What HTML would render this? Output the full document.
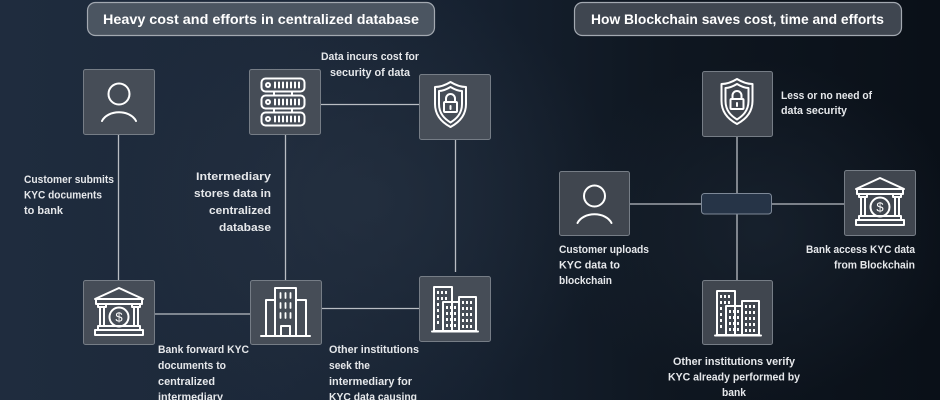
<!DOCTYPE html>
<html><head><meta charset="utf-8"><style>
html,body{margin:0;padding:0;width:940px;height:400px;overflow:hidden;}
body{background:linear-gradient(90deg,#1f2c3e 0%,#1c2839 30%,#162130 50%,#0f1721 70%,#0a1018 100%);}
svg{display:block;}
text{font-family:"Liberation Sans",sans-serif;font-weight:bold;fill:#e6e8eb;font-size:11px;}
.t{font-size:13.5px;fill:#ffffff;}
.ln{stroke:#b9bdc3;stroke-width:1.3;fill:none;}
.bx{fill:#464d57;stroke:#767d86;stroke-width:1;}
.ic{stroke:#ffffff;stroke-width:2;fill:none;stroke-linejoin:round;stroke-linecap:round;}
.icf{fill:#ffffff;}
</style></head><body>
<svg width="940" height="400" viewBox="0 0 940 400" xmlns="http://www.w3.org/2000/svg">
<defs>
<radialGradient id="glow" cx="0.5" cy="0.5" r="0.5">
<stop offset="0" stop-color="#2a3646" stop-opacity="0.55"/>
<stop offset="1" stop-color="#2a3646" stop-opacity="0"/>
</radialGradient>
<radialGradient id="glow2" cx="0.5" cy="0.5" r="0.5">
<stop offset="0" stop-color="#1d2836" stop-opacity="0.6"/>
<stop offset="1" stop-color="#1d2836" stop-opacity="0"/>
</radialGradient>
</defs>
<ellipse cx="360" cy="200" rx="260" ry="220" fill="url(#glow)"/>
<ellipse cx="760" cy="230" rx="200" ry="170" fill="url(#glow2)"/>

<!-- Titles -->
<rect x="87.5" y="2.5" width="347" height="33" rx="8" fill="#4b5561" stroke="#a3a9b1" stroke-width="1.2"/>
<text class="t" x="103" y="24" textLength="316" lengthAdjust="spacingAndGlyphs">Heavy cost and efforts in centralized database</text>
<rect x="574.5" y="2.5" width="327" height="33" rx="8" fill="#3f4650" stroke="#a3a9b1" stroke-width="1.2"/>
<text class="t" x="591" y="24" textLength="293" lengthAdjust="spacingAndGlyphs">How Blockchain saves cost, time and efforts</text>

<!-- LEFT connectors -->
<line class="ln" x1="118.5" y1="135" x2="118.5" y2="280"/>
<line class="ln" x1="285.5" y1="135" x2="285.5" y2="280"/>
<line class="ln" x1="455.5" y1="140" x2="455.5" y2="272"/>
<line class="ln" x1="320" y1="104.5" x2="419" y2="104.5"/>
<line class="ln" x1="154" y1="314" x2="250" y2="314"/>
<line class="ln" x1="321" y1="308.5" x2="419" y2="308.5"/>

<!-- RIGHT connectors -->
<line class="ln" x1="737" y1="136" x2="737" y2="193"/>
<line class="ln" x1="737" y1="214" x2="737" y2="280"/>
<line class="ln" x1="629" y1="204" x2="702" y2="204"/>
<line class="ln" x1="772" y1="204" x2="844" y2="204"/>

<!-- Person box (left) -->
<g transform="translate(83,69)">
<rect class="bx" x="0.5" y="0.5" width="71" height="65" rx="2"/>
<circle class="ic" cx="36" cy="25" r="10.5" stroke-width="2.6"/>
<path class="ic" d="M19,52 A18,13 0 0 1 53,52" stroke-width="2.8"/>
</g>

<!-- Server box -->
<g transform="translate(249,69)">
<rect class="bx" x="0.5" y="0.5" width="71" height="65" rx="2"/>
<g class="ic" stroke-width="1.8">
<rect x="12.5" y="9.5" width="43" height="13" rx="4"/>
<rect x="12.5" y="26.5" width="43" height="13" rx="4"/>
<rect x="12.5" y="43.5" width="43" height="13" rx="4"/>
<line x1="25" y1="22.5" x2="25" y2="26.5"/><line x1="43" y1="22.5" x2="43" y2="26.5"/>
<line x1="25" y1="39.5" x2="25" y2="43.5"/><line x1="43" y1="39.5" x2="43" y2="43.5"/>
<circle cx="19" cy="16" r="2"/><circle cx="19" cy="33" r="2"/><circle cx="19" cy="50" r="2"/>
<path d="M26,13.5v5M30,13.5v5M34,13.5v5M38,13.5v5M42,13.5v5M46,13.5v5M50,13.5v5"/>
<path d="M26,30.5v5M30,30.5v5M34,30.5v5M38,30.5v5M42,30.5v5M46,30.5v5M50,30.5v5"/>
<path d="M26,47.5v5M30,47.5v5M34,47.5v5M38,47.5v5M42,47.5v5M46,47.5v5M50,47.5v5"/>
</g>
</g>

<!-- Shield box (left) -->
<g transform="translate(419,74)">
<rect class="bx" x="0.5" y="0.5" width="71" height="65" rx="2"/>
<g class="ic" stroke-width="1.7">
<path d="M31.5,8 C38,12 43,13 47,13 L47,30 C47,42 39,49 31.5,53 C24,49 16,42 16,30 L16,13 C20,13 25,12 31.5,8 Z"/>
<path d="M31.5,13 C36.5,16 40,17 43,17 L43,30 C43,40 37,45 31.5,48.5 C26,45 20,40 20,30 L20,17 C23,17 26.5,16 31.5,13 Z"/>
<path d="M27,28 V24.5 A4.5,4.5 0 0 1 36,24.5 V28"/>
<rect x="25" y="28" width="13" height="10" rx="1"/>
<line x1="31.5" y1="32" x2="31.5" y2="35"/>
</g>
</g>

<!-- Bank box (left) -->
<g transform="translate(83,280)">
<rect class="bx" x="0.5" y="0.5" width="71" height="64" rx="2"/>
<g class="ic" stroke-width="1.9">
<path d="M12,19 L36,8 L60,19 Z"/>
<rect x="13" y="19" width="46" height="5"/>
<rect x="15" y="24" width="8" height="3"/>
<rect x="49" y="24" width="8" height="3"/>
<line x1="17" y1="27" x2="17" y2="46"/><line x1="21" y1="27" x2="21" y2="46"/>
<line x1="51" y1="27" x2="51" y2="46"/><line x1="55" y1="27" x2="55" y2="46"/>
<rect x="15" y="46" width="42" height="4"/>
<rect x="12" y="50" width="48" height="5"/>
<circle cx="36" cy="37" r="9.5"/>
</g>
<text x="36" y="41.5" text-anchor="middle" style="font-size:13px;fill:#fff;font-weight:normal">$</text>
</g>

<!-- Building box -->
<g transform="translate(250,280)">
<rect class="bx" x="0.5" y="0.5" width="71" height="64" rx="2"/>
<g class="ic" stroke-width="1.9">
<rect x="25" y="8" width="21" height="48"/>
<path d="M25,20 H16 V56 M46,20 H56 V56"/>
<line x1="11" y1="56" x2="60" y2="56"/>
<rect x="31" y="46" width="9" height="10"/>
<path d="M30.5,13v5M35.5,13v5M40.5,13v5M30.5,23v5M35.5,23v5M40.5,23v5M30.5,33v5M35.5,33v5M40.5,33v5" stroke-width="1.8"/>
</g>
</g>

<!-- Other institutions box (left) -->
<g transform="translate(419,276)">
<rect class="bx" x="0.5" y="0.5" width="71" height="65" rx="2"/>
<g class="ic" stroke-width="1.8">
<rect x="15" y="11" width="18" height="44"/>
<rect x="24" y="26" width="16" height="29"/>
<rect x="40" y="21" width="17" height="34"/>
<line x1="13" y1="55.5" x2="59" y2="55.5"/>
</g>
<g class="icf">
<rect x="18" y="15" width="2" height="3"/><rect x="22" y="15" width="2" height="3"/><rect x="26" y="15" width="2" height="3"/>
<rect x="18" y="21" width="2" height="3"/><rect x="22" y="21" width="2" height="3"/><rect x="26" y="21" width="2" height="3"/>
<rect x="18" y="27" width="2" height="3"/><rect x="18" y="33" width="2" height="3"/><rect x="18" y="39" width="2" height="3"/><rect x="18" y="45" width="2" height="3"/>
<rect x="27" y="30" width="2" height="3"/><rect x="31" y="30" width="2" height="3"/><rect x="35" y="30" width="2" height="3"/>
<rect x="27" y="36" width="2" height="3"/><rect x="31" y="36" width="2" height="3"/><rect x="35" y="36" width="2" height="3"/>
<rect x="27" y="42" width="2" height="3"/><rect x="31" y="42" width="2" height="3"/><rect x="35" y="42" width="2" height="3"/>
<rect x="27" y="48" width="2" height="3"/><rect x="31" y="48" width="2" height="3"/><rect x="35" y="48" width="2" height="3"/>
<rect x="43" y="25" width="2" height="3"/><rect x="47" y="25" width="2" height="3"/><rect x="51" y="25" width="2" height="3"/>
<rect x="43" y="31" width="2" height="3"/><rect x="47" y="31" width="2" height="3"/><rect x="51" y="31" width="2" height="3"/>
<rect x="43" y="37" width="2" height="3"/><rect x="47" y="37" width="2" height="3"/><rect x="51" y="37" width="2" height="3"/>
<rect x="43" y="43" width="2" height="3"/><rect x="47" y="43" width="2" height="3"/><rect x="51" y="43" width="2" height="3"/>
<rect x="43" y="49" width="2" height="3"/><rect x="47" y="49" width="2" height="3"/><rect x="51" y="49" width="2" height="3"/>
</g>
</g>

<!-- RIGHT: Shield -->
<g transform="translate(702,71)">
<rect class="bx" x="0.5" y="0.5" width="70" height="65" rx="2" style="fill:#40464f"/>
<g class="ic" stroke-width="1.7">
<path d="M35,8 C41.5,12 46.5,13 50.5,13 L50.5,30 C50.5,42 42.5,49 35,53 C27.5,49 19.5,42 19.5,30 L19.5,13 C23.5,13 28.5,12 35,8 Z"/>
<path d="M35,13 C40,16 43.5,17 46.5,17 L46.5,30 C46.5,40 40.5,45 35,48.5 C29.5,45 23.5,40 23.5,30 L23.5,17 C26.5,17 30,16 35,13 Z"/>
<path d="M30.5,28 V24.5 A4.5,4.5 0 0 1 39.5,24.5 V28"/>
<rect x="28.5" y="28" width="13" height="10" rx="1"/>
<line x1="35" y1="32" x2="35" y2="35"/>
</g>
</g>

<!-- RIGHT: Center blockchain box -->
<rect x="701.5" y="193.5" width="70" height="20.5" rx="3" fill="#263447" stroke="#7d8897" stroke-width="1"/>

<!-- RIGHT: Person -->
<g transform="translate(559,171)">
<rect class="bx" x="0.5" y="0.5" width="70" height="64" rx="2" style="fill:#40464f"/>
<circle class="ic" cx="35.5" cy="25" r="10.5" stroke-width="2.6"/>
<path class="ic" d="M18.5,52 A18,13 0 0 1 52.5,52" stroke-width="2.8"/>
</g>

<!-- RIGHT: Bank -->
<g transform="translate(844,170)">
<rect class="bx" x="0.5" y="0.5" width="71" height="65" rx="2" style="fill:#40464f"/>
<g class="ic" stroke-width="1.9">
<path d="M12,19 L36,8 L60,19 Z"/>
<rect x="13" y="19" width="46" height="5"/>
<rect x="15" y="24" width="8" height="3"/>
<rect x="49" y="24" width="8" height="3"/>
<line x1="17" y1="27" x2="17" y2="46"/><line x1="21" y1="27" x2="21" y2="46"/>
<line x1="51" y1="27" x2="51" y2="46"/><line x1="55" y1="27" x2="55" y2="46"/>
<rect x="15" y="46" width="42" height="4"/>
<rect x="12" y="50" width="48" height="5"/>
<circle cx="36" cy="37" r="9.5"/>
</g>
<text x="36" y="41.5" text-anchor="middle" style="font-size:13px;fill:#fff;font-weight:normal">$</text>
</g>

<!-- RIGHT: Other institutions -->
<g transform="translate(702,280)">
<rect class="bx" x="0.5" y="0.5" width="70" height="64" rx="2" style="fill:#40464f"/>
<g class="ic" stroke-width="1.8">
<rect x="15" y="11" width="18" height="44"/>
<rect x="24" y="26" width="16" height="29"/>
<rect x="40" y="21" width="17" height="34"/>
<line x1="13" y1="55.5" x2="59" y2="55.5"/>
</g>
<g class="icf">
<rect x="18" y="15" width="2" height="3"/><rect x="22" y="15" width="2" height="3"/><rect x="26" y="15" width="2" height="3"/>
<rect x="18" y="21" width="2" height="3"/><rect x="22" y="21" width="2" height="3"/><rect x="26" y="21" width="2" height="3"/>
<rect x="18" y="27" width="2" height="3"/><rect x="18" y="33" width="2" height="3"/><rect x="18" y="39" width="2" height="3"/><rect x="18" y="45" width="2" height="3"/>
<rect x="27" y="30" width="2" height="3"/><rect x="31" y="30" width="2" height="3"/><rect x="35" y="30" width="2" height="3"/>
<rect x="27" y="36" width="2" height="3"/><rect x="31" y="36" width="2" height="3"/><rect x="35" y="36" width="2" height="3"/>
<rect x="27" y="42" width="2" height="3"/><rect x="31" y="42" width="2" height="3"/><rect x="35" y="42" width="2" height="3"/>
<rect x="27" y="48" width="2" height="3"/><rect x="31" y="48" width="2" height="3"/><rect x="35" y="48" width="2" height="3"/>
<rect x="43" y="25" width="2" height="3"/><rect x="47" y="25" width="2" height="3"/><rect x="51" y="25" width="2" height="3"/>
<rect x="43" y="31" width="2" height="3"/><rect x="47" y="31" width="2" height="3"/><rect x="51" y="31" width="2" height="3"/>
<rect x="43" y="37" width="2" height="3"/><rect x="47" y="37" width="2" height="3"/><rect x="51" y="37" width="2" height="3"/>
<rect x="43" y="43" width="2" height="3"/><rect x="47" y="43" width="2" height="3"/><rect x="51" y="43" width="2" height="3"/>
<rect x="43" y="49" width="2" height="3"/><rect x="47" y="49" width="2" height="3"/><rect x="51" y="49" width="2" height="3"/>
</g>
</g>

<!-- LEFT labels -->
<text x="24" y="183" textLength="90" lengthAdjust="spacingAndGlyphs">Customer submits</text>
<text x="24" y="198.5" textLength="78" lengthAdjust="spacingAndGlyphs">KYC documents</text>
<text x="24" y="214" textLength="39" lengthAdjust="spacingAndGlyphs">to bank</text>

<text x="196" y="180" textLength="75" lengthAdjust="spacingAndGlyphs">Intermediary</text>
<text x="194" y="197" textLength="77" lengthAdjust="spacingAndGlyphs">stores data in</text>
<text x="209" y="214" textLength="62" lengthAdjust="spacingAndGlyphs">centralized</text>
<text x="219" y="231" textLength="52" lengthAdjust="spacingAndGlyphs">database</text>

<text x="321" y="60" textLength="98" lengthAdjust="spacingAndGlyphs">Data incurs cost for</text>
<text x="330" y="76" textLength="80" lengthAdjust="spacingAndGlyphs">security of data</text>

<text x="158" y="353" textLength="91" lengthAdjust="spacingAndGlyphs">Bank forward KYC</text>
<text x="158" y="369" textLength="68" lengthAdjust="spacingAndGlyphs">documents to</text>
<text x="158" y="385" textLength="57" lengthAdjust="spacingAndGlyphs">centralized</text>
<text x="158" y="400.5" textLength="65" lengthAdjust="spacingAndGlyphs">intermediary</text>

<text x="329" y="353" textLength="90" lengthAdjust="spacingAndGlyphs">Other institutions</text>
<text x="329" y="369" textLength="41" lengthAdjust="spacingAndGlyphs">seek the</text>
<text x="329" y="385" textLength="83" lengthAdjust="spacingAndGlyphs">intermediary for</text>
<text x="329" y="400.5" textLength="88" lengthAdjust="spacingAndGlyphs">KYC data causing</text>

<!-- RIGHT labels -->
<text x="781" y="99" textLength="91" lengthAdjust="spacingAndGlyphs">Less or no need of</text>
<text x="781" y="114" textLength="66" lengthAdjust="spacingAndGlyphs">data security</text>

<text x="559" y="253" textLength="90" lengthAdjust="spacingAndGlyphs">Customer uploads</text>
<text x="559" y="268.5" textLength="61" lengthAdjust="spacingAndGlyphs">KYC data to</text>
<text x="559" y="284" textLength="53" lengthAdjust="spacingAndGlyphs">blockchain</text>

<text x="806" y="253" textLength="109" lengthAdjust="spacingAndGlyphs">Bank access KYC data</text>
<text x="834" y="268.5" textLength="81" lengthAdjust="spacingAndGlyphs">from Blockchain</text>

<text x="673" y="365" textLength="122" lengthAdjust="spacingAndGlyphs">Other institutions verify</text>
<text x="668" y="380.5" textLength="132" lengthAdjust="spacingAndGlyphs">KYC already performed by</text>
<text x="722" y="396" textLength="24" lengthAdjust="spacingAndGlyphs">bank</text>
</svg>
</body></html>
